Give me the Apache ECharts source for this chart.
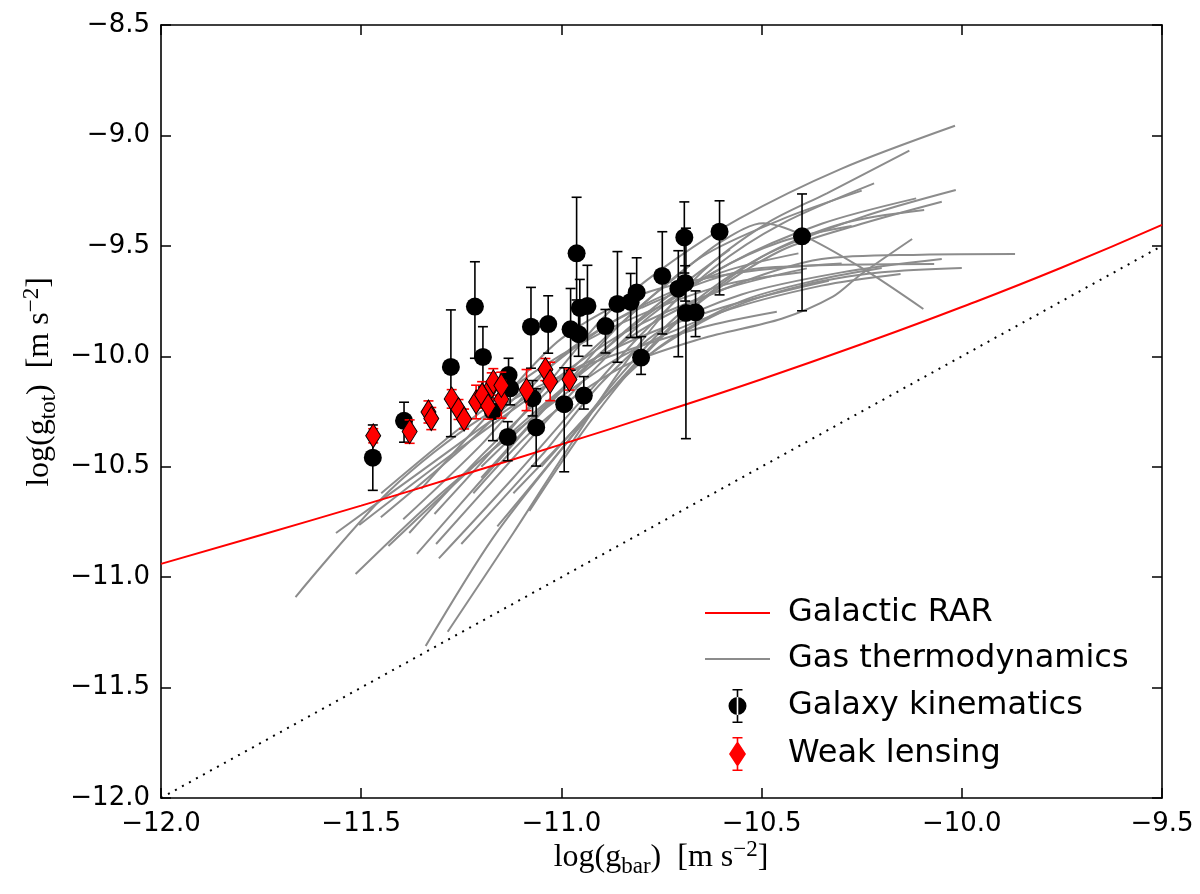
<!DOCTYPE html>
<html>
<head>
<meta charset="utf-8">
<script src="https://cdn.jsdelivr.net/npm/echarts@6/dist/echarts.min.js"></script>
<style>html,body{margin:0;padding:0;background:#fff;}#c{width:1200px;height:894px;}</style>
</head>
<body>
<div id="c"></div>
<script>
// ---- data ----
const rarX = [-12, -11.75, -11.5, -11.25, -11, -10.75, -10.5, -10.25, -10, -9.75, -9.5];
const rarY = [-10.94, -10.809, -10.676, -10.539, -10.399, -10.254, -10.104, -9.945, -9.777, -9.598, -9.405];
const unityX = [-12, -9.5];
const unityY = [-12, -9.5];

const kinX  = [-11.471,-11.393,-11.276,-11.216,-11.196,-11.132,-11.128,-11.171,-11.134,-11.076,-11.033,-11.072,-11.063,-10.993,-10.977,-10.962,-10.954,-10.935,-10.957,-10.890,-10.860,-10.827,-10.812,-10.801,-10.748,-10.708,-10.693,-10.691,-10.689,-10.665,-10.605,-10.399,-10.944];
const kinY  = [-10.459,-10.292,-10.048,-9.775,-10.003,-10.085,-10.145,-10.250,-10.365,-9.866,-9.854,-10.190,-10.322,-10.217,-9.878,-9.534,-9.781,-9.772,-9.900,-9.863,-9.763,-9.754,-9.711,-10.006,-9.636,-9.694,-9.462,-9.668,-9.804,-9.801,-9.436,-9.457,-10.178];
const kinLo = [-10.607,-10.389,-10.364,-10.009,-10.139,-10.162,-10.22,-10.382,-10.473,-10.054,-9.986,-10.27,-10.497,-10.523,-10.063,-9.745,-9.91,-9.952,-10.0,-9.985,-10.027,-9.915,-9.915,-10.082,-9.899,-10.002,-9.623,-9.75,-10.373,-9.911,-9.722,-9.794,-10.239];
const kinHi = [-10.311,-10.208,-9.790,-9.572,-9.866,-10.009,-10.07,-10.118,-10.296,-9.688,-9.726,-10.11,-10.147,-10.052,-9.693,-9.280,-9.652,-9.588,-9.80,-9.788,-9.526,-9.625,-9.554,-9.911,-9.436,-9.522,-9.301,-9.59,-9.420,-9.704,-9.296,-9.265,-10.092];

const lensX   = [-11.470,-11.379,-11.332,-11.325,-11.274,-11.257,-11.243,-11.213,-11.198,-11.183,-11.174,-11.170,-11.150,-11.150,-11.087,-11.040,-11.028,-10.980];
const lensY   = [-10.360,-10.341,-10.252,-10.282,-10.193,-10.241,-10.284,-10.207,-10.175,-10.225,-10.135,-10.116,-10.195,-10.132,-10.153,-10.060,-10.114,-10.105];
const lensErr = [0.032,0.053,0.05,0.05,0.042,0.045,0.045,0.076,0.06,0.06,0.06,0.06,0.085,0.06,0.093,0.05,0.087,0.048];

const gasLines = [
  [[-11.664,-11.09],[-11.43,-10.61],[-11.2,-10.28],[-10.95,-10.05],[-10.65,-9.87],[-10.462,-9.798]],
  [[-11.563,-10.80],[-11.35,-10.52],[-11.1,-10.2],[-10.85,-9.95],[-10.6,-9.78],[-10.332,-9.658]],
  [[-11.514,-10.986],[-11.3,-10.62],[-11.05,-10.25],[-10.85,-10.0],[-10.6,-9.8],[-10.35,-9.68],[-10.153,-9.627]],
  [[-11.505,-10.764],[-11.3,-10.48],[-11.05,-10.15],[-10.85,-9.9],[-10.6,-9.7],[-10.387,-9.602]],
  [[-11.451,-10.729],[-11.25,-10.42],[-11.05,-10.08],[-10.85,-9.82],[-10.6,-9.62],[-10.408,-9.534]],
  [[-11.432,-10.859],[-11.22,-10.5],[-11.0,-10.15],[-10.8,-9.88],[-10.6,-9.7],[-10.35,-9.56],[-10.1,-9.54],[-9.867,-9.537]],
  [[-11.395,-10.738],[-11.2,-10.40],[-11.0,-10.0],[-10.8,-9.78],[-10.5,-9.6],[-10.069,-9.582]],
  [[-11.361,-10.895],[-11.17,-10.5],[-11.0,-10.16],[-10.82,-9.86],[-10.62,-9.62],[-10.45,-9.48],[-10.275,-9.41]],
  [[-11.317,-10.714],[-11.15,-10.38],[-11.0,-10.05],[-10.887,-9.81],[-10.747,-9.602],[-10.556,-9.377],[-10.3,-9.15],[-10.017,-8.956]],
  [[-11.339,-11.312],[-11.17,-10.82],[-10.99,-10.40],[-10.85,-10.1],[-10.7,-9.82],[-10.5,-9.55],[-10.3,-9.4],[-10.094,-9.338]],
  [[-11.313,-10.85],[-11.13,-10.48],[-10.95,-10.12],[-10.78,-9.82],[-10.58,-9.58],[-10.35,-9.40],[-10.114,-9.285]],
  [[-11.306,-10.915],[-11.12,-10.55],[-10.95,-10.2],[-10.8,-9.9],[-10.62,-9.6],[-10.45,-9.4],[-10.219,-9.217]],
  [[-11.284,-11.247],[-11.12,-10.80],[-10.97,-10.38],[-10.82,-9.98],[-10.65,-9.62],[-10.487,-9.398],[-10.337,-9.262],[-10.131,-9.069]],
  [[-11.16,-10.77],[-11.0,-10.42],[-10.85,-10.08],[-10.7,-9.8],[-10.5,-9.55],[-10.25,-9.37],[-10.015,-9.247]],
  [[-11.22,-10.62],[-11.05,-10.3],[-10.85,-10.05],[-10.65,-9.92],[-10.45,-9.83],[-10.322,-9.73],[-10.254,-9.632],[-10.124,-9.469]],
  [[-11.2,-10.55],[-11.0,-10.15],[-10.85,-9.85],[-10.7,-9.62],[-10.6,-9.48],[-10.496,-9.398],[-10.4,-9.45],[-10.25,-9.6],[-10.096,-9.786]],
  [[-11.2,-10.5],[-11.0,-10.15],[-10.85,-9.9],[-10.7,-9.68],[-10.579,-9.516]],
  [[-11.05,-10.5],[-10.9,-10.2],[-10.75,-9.95],[-10.55,-9.75],[-10.35,-9.65],[-10.2,-9.6]],
  [[-11.35,-10.6],[-11.15,-10.2],[-11.0,-9.92],[-10.8,-9.72],[-10.55,-9.62],[-10.3,-9.58]],
  [[-11.12,-10.62],[-10.95,-10.3],[-10.8,-10.02],[-10.6,-9.8],[-10.4,-9.68],[-10.2,-9.62],[-10.0,-9.6]],
  [[-11.25,-10.85],[-11.05,-10.45],[-10.9,-10.12],[-10.75,-9.88],[-10.55,-9.72],[-10.3,-9.62],[-10.05,-9.56]],
  [[-11.45,-10.62],[-11.25,-10.32],[-11.05,-10.05],[-10.85,-9.85],[-10.6,-9.68],[-10.4,-9.62]],
  [[-11.08,-10.7],[-10.95,-10.35],[-10.82,-10.05],[-10.65,-9.75],[-10.45,-9.52],[-10.25,-9.4],[-10.05,-9.3]],
  [[-11.38,-10.8],[-11.2,-10.45],[-11.0,-10.1],[-10.85,-9.85],[-10.65,-9.55],[-10.45,-9.38],[-10.25,-9.25]]
];

// ---- chart ----
const chart = echarts.init(document.getElementById('c'), null, {renderer: 'canvas'});
const fmt = v => (v < 0 ? '\u2212' : '') + Math.abs(v).toFixed(1);
const tickFont = {fontSize: 26, fontFamily: 'DejaVu Sans', color: '#000'};

function errRender(color) {
  return function (params, api) {
    const x = api.value(0), lo = api.value(1), hi = api.value(2);
    const p1 = api.coord([x, lo]), p2 = api.coord([x, hi]);
    const hw = 5;
    const st = {stroke: color, lineWidth: 1.6, fill: null};
    return {type: 'group', children: [
      {type: 'line', shape: {x1: p1[0], y1: p1[1], x2: p2[0], y2: p2[1]}, style: st},
      {type: 'line', shape: {x1: p1[0] - hw, y1: p1[1], x2: p1[0] + hw, y2: p1[1]}, style: st},
      {type: 'line', shape: {x1: p2[0] - hw, y1: p2[1], x2: p2[0] + hw, y2: p2[1]}, style: st}
    ]};
  };
}

const axisCommon = {
  type: 'value', min: -12, interval: 0.5,
  axisLine: {show: true, onZero: false, lineStyle: {color: '#000', width: 1.6}},
  axisTick: {show: true, inside: true, length: 10, lineStyle: {color: '#000', width: 1.5}},
  splitLine: {show: false}
};

const series = [];
gasLines.forEach(function (pts) {
  series.push({name: 'Gas thermodynamics', type: 'line', data: pts, smooth: 0.3, symbol: 'none',
    lineStyle: {color: '#8c8c8c', width: 2}, itemStyle: {color: '#8c8c8c'}, z: 2, silent: true});
});
series.push({name: 'Galactic RAR', type: 'line', data: rarX.map((x, i) => [x, rarY[i]]), smooth: true,
  symbol: 'none', lineStyle: {color: '#ff0000', width: 2}, itemStyle: {color: '#ff0000'}, z: 3});
series.push({name: 'one-to-one', type: 'line', data: unityX.map((x, i) => [x, unityY[i]]), symbol: 'none',
  lineStyle: {color: '#000', width: 2, type: [2, 6]}, itemStyle: {color: '#000'}, z: 3});
series.push({name: 'kinErr', type: 'custom', renderItem: errRender('#000'),
  data: kinX.map((x, i) => [x, kinLo[i], kinHi[i]]), encode: {x: 0, y: [1, 2]}, z: 4});
series.push({name: 'Galaxy kinematics', type: 'scatter', data: kinX.map((x, i) => [x, kinY[i]]),
  symbol: 'circle', symbolSize: 18, itemStyle: {color: '#000', opacity: 1}, z: 5});
series.push({name: 'lensErr', type: 'custom', renderItem: errRender('#ff0000'),
  data: lensX.map((x, i) => [x, lensY[i] - lensErr[i], lensY[i] + lensErr[i]]), encode: {x: 0, y: [1, 2]}, z: 6});
series.push({name: 'Weak lensing', type: 'scatter', data: lensX.map((x, i) => [x, lensY[i]]),
  symbol: 'diamond', symbolSize: [15, 24], itemStyle: {color: '#ff0000', borderColor: '#000', borderWidth: 1, opacity: 1}, z: 7});

const lineIcon = 'path://M0,0H65V2H0Z';
const kinIcon = 'path://M4,0H14V1.6H9.8V32.4H14V34H4V32.4H8.2V1.6H4Z M0,17A9,9 0 1,0 18,17A9,9 0 1,0 0,17Z';
const lensIcon = 'path://M3.5,0H13.5V1.6H9.3V32.4H13.5V34H3.5V32.4H7.7V1.6H3.5Z M8.5,4L17,17L8.5,30L0,17Z';

const richLabel = {
  a: {fontSize: 32, fontFamily: 'Liberation Serif', lineHeight: 40, fill: '#000', color: '#000'},
  b: {fontSize: 23, fontFamily: 'Liberation Serif', lineHeight: 24, verticalAlign: 'bottom', fill: '#000', color: '#000'},
  c: {fontSize: 23, fontFamily: 'Liberation Serif', lineHeight: 18, verticalAlign: 'top', fill: '#000', color: '#000'}
};

chart.setOption({
  animation: false,
  backgroundColor: '#fff',
  grid: {left: 161, right: 38, top: 25, bottom: 96, containLabel: false},
  xAxis: [
    Object.assign({}, axisCommon, {max: -9.5, position: 'bottom',
      axisLabel: Object.assign({margin: 13, formatter: fmt, showMinLabel: true, showMaxLabel: true}, tickFont)}),
    Object.assign({}, axisCommon, {max: -9.5, position: 'top', axisLabel: {show: false}})
  ],
  yAxis: [
    Object.assign({}, axisCommon, {max: -8.5, position: 'left',
      axisLabel: Object.assign({margin: 11, formatter: fmt, showMinLabel: true, showMaxLabel: true}, tickFont)}),
    Object.assign({}, axisCommon, {max: -8.5, position: 'right', axisLabel: {show: false}})
  ],
  legend: {
    orient: 'vertical', left: 700, top: 592, itemWidth: 65, itemHeight: 34, itemGap: 14,
    textStyle: {fontSize: 32, fontFamily: 'DejaVu Sans', color: '#000', padding: [0, 0, 0, 13]},
    data: [
      {name: 'Galactic RAR', icon: lineIcon},
      {name: 'Gas thermodynamics', icon: lineIcon},
      {name: 'Galaxy kinematics', icon: kinIcon},
      {name: 'Weak lensing', icon: lensIcon, itemStyle: {borderWidth: 0}}
    ],
    selectedMode: false
  },
  graphic: [
    {type: 'text', x: 661, y: 858, silent: true,
      style: {text: '{a|log(g}{b|bar}{a|)  [m s}{c|\u22122}{a|]}', rich: richLabel, align: 'center', verticalAlign: 'middle'}},
    {type: 'text', x: 40, y: 382, rotation: Math.PI / 2, silent: true,
      style: {text: '{a|log(g}{b|tot}{a|)  [m s}{c|\u22122}{a|]}', rich: richLabel, align: 'center', verticalAlign: 'middle'}}
  ],
  series: series
});
</script>
</body>
</html>
